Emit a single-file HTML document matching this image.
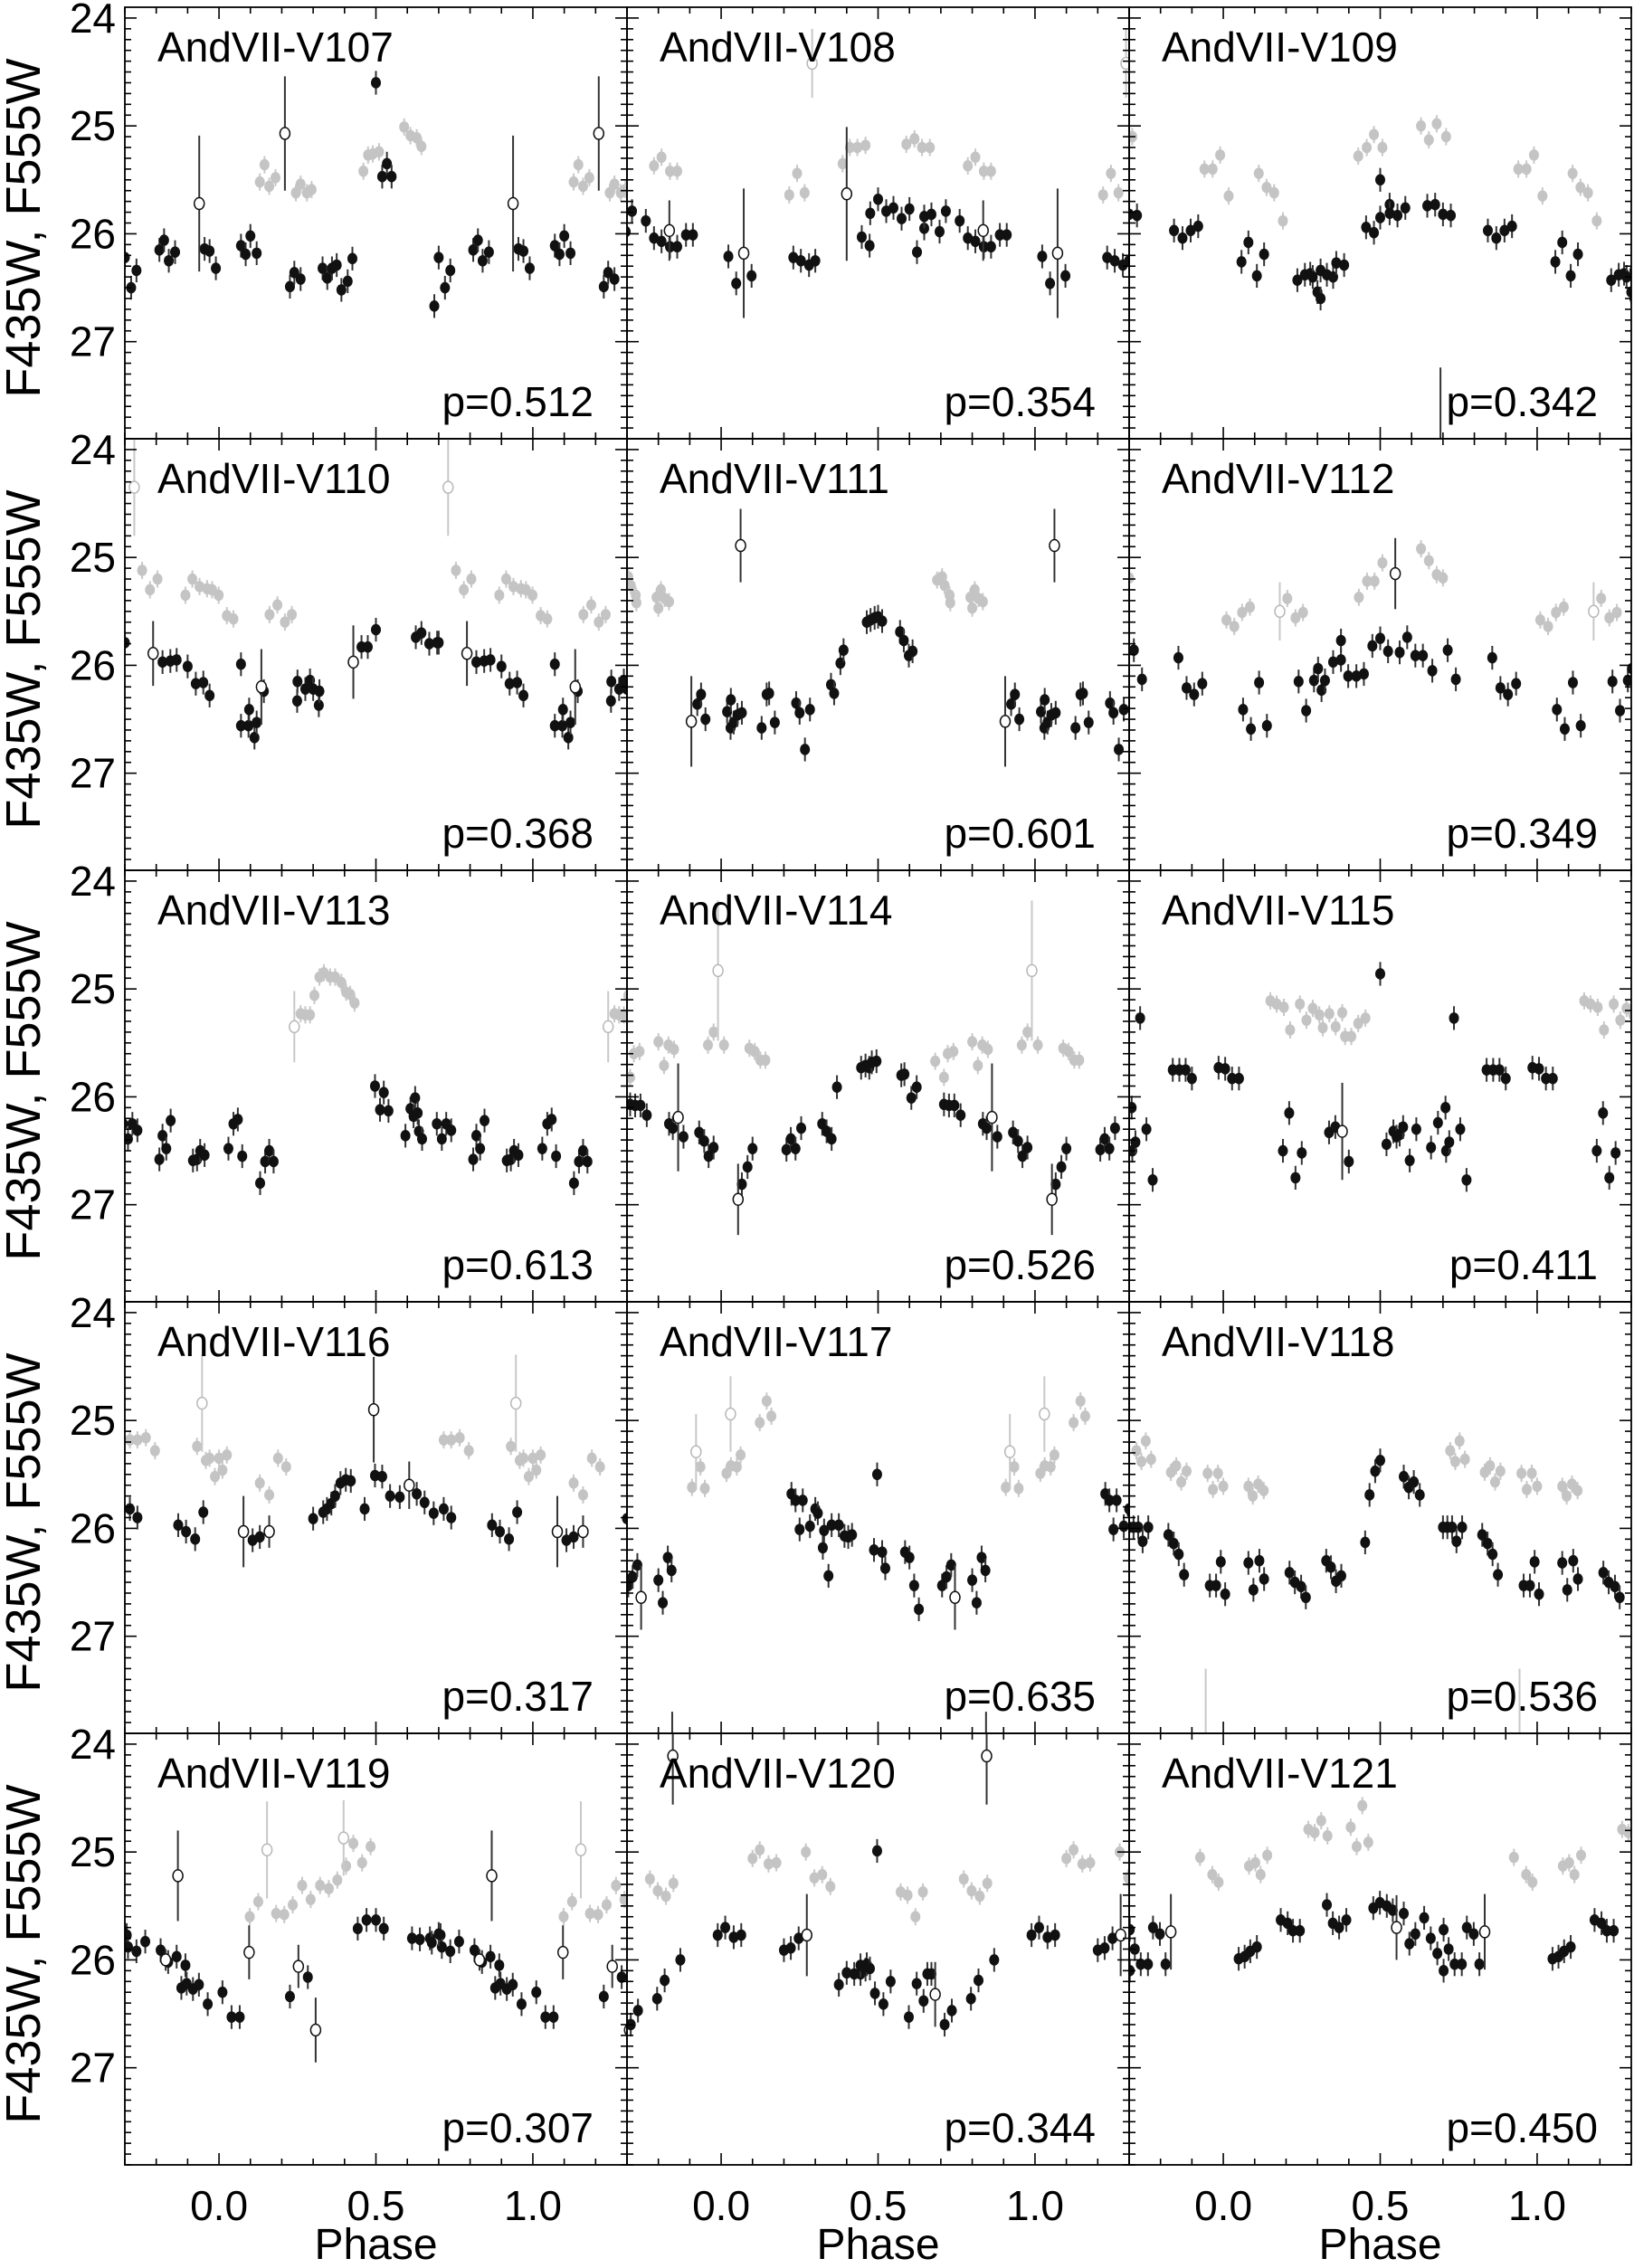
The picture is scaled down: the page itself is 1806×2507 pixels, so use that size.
<!DOCTYPE html>
<html><head><meta charset="utf-8"><title>AndVII variable light curves</title>
<style>
html,body{margin:0;padding:0;background:#fff;}
svg{display:block;}
text{font-family:"Liberation Sans",Arial,sans-serif;fill:#000;}
</style></head>
<body>
<svg id="chart" xmlns="http://www.w3.org/2000/svg" width="1806" height="2507" viewBox="0 0 1806 2507">
<rect x="0" y="0" width="1806" height="2507" fill="#fff"/>
</svg>
<script>
const starNames = ["AndVII-V107","AndVII-V108","AndVII-V109","AndVII-V110","AndVII-V111","AndVII-V112","AndVII-V113","AndVII-V114","AndVII-V115","AndVII-V116","AndVII-V117","AndVII-V118","AndVII-V119","AndVII-V120","AndVII-V121"];
const periods = ["0.512","0.354","0.342","0.368","0.601","0.349","0.613","0.526","0.411","0.317","0.635","0.536","0.307","0.344","0.450"];
const xTickValues = [0.0,0.5,1.0];
const xTickLabels = ["0.0","0.5","1.0"];
const yTickValues = [24,25,26,27];
const yTickLabels = ["24","25","26","27"];

const blackPts = [
[[0.686,26.67],[0.70,26.22],[0.72,26.50],[0.737,26.34],[0.81,26.15],[0.825,26.06],[0.84,26.25],[0.86,26.17],[0.954,26.14],[0.97,26.16],[0.99,26.32],[0.07,26.11],[0.085,26.19],[0.10,26.02],[0.12,26.18],[0.226,26.49],[0.24,26.36],[0.26,26.42],[0.33,26.32],[0.345,26.41],[0.36,26.32],[0.375,26.29],[0.39,26.52],[0.41,26.44],[0.425,26.23],[0.50,24.60],[0.52,25.47],[0.535,25.35],[0.55,25.47]],
[[0.716,25.79],[0.76,25.88],[0.786,26.04],[0.81,26.07],[0.837,26.12],[0.86,26.12],[0.888,26.01],[0.91,26.01],[0.023,26.21],[0.048,26.46],[0.097,26.39],[0.23,26.22],[0.254,26.25],[0.28,26.29],[0.30,26.25],[0.448,26.03],[0.473,26.11],[0.475,25.81],[0.50,25.68],[0.526,25.79],[0.549,25.76],[0.575,25.86],[0.60,25.77],[0.624,26.17],[0.647,25.95],[0.647,25.84],[0.67,25.82],[0.696,25.98]],
[[0.725,25.83],[0.843,25.97],[0.87,26.04],[0.896,25.97],[0.92,25.93],[0.058,26.26],[0.08,26.08],[0.107,26.39],[0.13,26.19],[0.236,26.43],[0.26,26.38],[0.277,26.37],[0.285,26.40],[0.30,26.54],[0.31,26.60],[0.31,26.34],[0.33,26.38],[0.35,26.40],[0.36,26.27],[0.385,26.29],[0.455,25.94],[0.48,25.99],[0.50,25.50],[0.50,25.85],[0.53,25.73],[0.53,25.81],[0.555,25.83],[0.58,25.76],[0.65,25.74],[0.675,25.73],[0.70,25.82]],
[[0.70,25.79],[0.82,25.97],[0.845,25.96],[0.865,25.95],[0.90,26.01],[0.926,26.17],[0.95,26.16],[0.97,26.28],[0.07,25.99],[0.07,26.56],[0.094,26.56],[0.096,26.41],[0.113,26.67],[0.12,26.53],[0.143,26.24],[0.249,26.33],[0.25,26.15],[0.275,26.22],[0.29,26.14],[0.30,26.22],[0.318,26.37],[0.32,26.24],[0.454,25.83],[0.474,25.83],[0.50,25.67],[0.627,25.74],[0.645,25.70],[0.67,25.80],[0.695,25.79]],
[[0.924,26.36],[0.936,26.27],[0.95,26.50],[0.019,26.43],[0.03,26.58],[0.031,26.32],[0.04,26.53],[0.052,26.46],[0.066,26.44],[0.129,26.58],[0.145,26.27],[0.153,26.26],[0.171,26.53],[0.239,26.35],[0.25,26.44],[0.267,26.78],[0.283,26.41],[0.35,26.18],[0.36,26.26],[0.38,25.98],[0.39,25.86],[0.464,25.60],[0.476,25.58],[0.489,25.56],[0.50,25.55],[0.513,25.59],[0.57,25.69],[0.582,25.77],[0.598,25.91],[0.61,25.87]],
[[0.715,25.86],[0.741,26.13],[0.857,25.93],[0.883,26.21],[0.907,26.27],[0.933,26.17],[0.063,26.41],[0.088,26.59],[0.114,26.16],[0.139,26.56],[0.24,26.15],[0.264,26.42],[0.289,26.14],[0.302,26.03],[0.313,26.23],[0.324,26.14],[0.35,25.97],[0.375,25.77],[0.375,25.95],[0.398,26.10],[0.424,26.10],[0.448,26.08],[0.475,25.82],[0.50,25.75],[0.525,25.87],[0.562,25.88],[0.586,25.74],[0.612,25.91],[0.636,25.91],[0.666,26.05]],
[[0.694,26.25],[0.71,26.39],[0.724,26.25],[0.74,26.31],[0.81,26.58],[0.82,26.36],[0.832,26.48],[0.846,26.22],[0.917,26.59],[0.93,26.58],[0.94,26.50],[0.954,26.54],[0.03,26.48],[0.046,26.25],[0.06,26.21],[0.074,26.55],[0.131,26.80],[0.147,26.60],[0.16,26.50],[0.174,26.60],[0.497,25.90],[0.525,25.96],[0.513,26.12],[0.54,26.13],[0.594,26.36],[0.61,26.11],[0.62,26.18],[0.625,26.01],[0.633,26.15],[0.637,26.32],[0.647,26.39]],
[[0.71,26.07],[0.726,26.08],[0.743,26.08],[0.763,26.17],[0.834,26.25],[0.846,26.29],[0.88,26.37],[0.93,26.33],[0.946,26.41],[0.96,26.55],[0.976,26.47],[0.066,26.81],[0.084,26.65],[0.10,26.48],[0.208,26.49],[0.222,26.39],[0.237,26.48],[0.255,26.29],[0.322,26.25],[0.336,26.32],[0.352,26.39],[0.369,25.91],[0.446,25.73],[0.46,25.71],[0.472,25.73],[0.48,25.68],[0.495,25.67],[0.574,25.80],[0.584,25.79],[0.606,26.01],[0.623,25.91]],
[[0.708,26.10],[0.71,26.50],[0.72,26.42],[0.735,25.27],[0.755,26.30],[0.775,26.77],[0.839,25.75],[0.86,25.75],[0.88,25.75],[0.90,25.83],[0.985,25.73],[0.006,25.74],[0.028,25.83],[0.05,25.83],[0.19,26.50],[0.21,26.15],[0.23,26.75],[0.25,26.52],[0.337,26.33],[0.357,26.28],[0.40,26.60],[0.50,24.86],[0.52,26.44],[0.542,26.32],[0.552,26.37],[0.562,26.35],[0.573,26.28],[0.594,26.59],[0.615,26.30],[0.662,26.47],[0.684,26.24]],
[[0.716,25.82],[0.74,25.90],[0.87,25.97],[0.895,26.03],[0.924,26.10],[0.95,25.85],[0.107,26.11],[0.13,26.08],[0.30,25.91],[0.332,25.85],[0.344,25.82],[0.358,25.77],[0.37,25.70],[0.387,25.58],[0.404,25.55],[0.42,25.56],[0.464,25.82],[0.497,25.51],[0.52,25.52],[0.545,25.70],[0.576,25.71],[0.63,25.68],[0.655,25.76],[0.684,25.86]],
[[0.704,26.53],[0.718,26.45],[0.733,26.34],[0.80,26.48],[0.814,26.69],[0.83,26.27],[0.842,26.39],[0.224,25.68],[0.237,25.74],[0.26,25.74],[0.25,26.01],[0.283,25.98],[0.30,25.82],[0.308,25.86],[0.324,26.18],[0.328,26.02],[0.342,26.44],[0.352,25.97],[0.375,25.97],[0.393,26.07],[0.405,26.08],[0.417,26.06],[0.497,25.50],[0.487,26.20],[0.513,26.22],[0.523,26.37],[0.586,26.22],[0.60,26.27],[0.615,26.53],[0.63,26.75]],
[[0.70,25.99],[0.714,25.99],[0.729,25.99],[0.743,26.12],[0.761,25.99],[0.825,26.06],[0.842,26.14],[0.858,26.24],[0.875,26.43],[0.957,26.53],[0.977,26.53],[0.992,26.31],[0.006,26.61],[0.08,26.32],[0.096,26.57],[0.115,26.30],[0.13,26.47],[0.211,26.41],[0.228,26.50],[0.248,26.54],[0.263,26.64],[0.328,26.30],[0.343,26.36],[0.359,26.49],[0.376,26.44],[0.452,26.13],[0.466,25.69],[0.484,25.47],[0.50,25.37],[0.575,25.52],[0.591,25.62],[0.607,25.57],[0.626,25.69]],
[[0.706,25.77],[0.71,25.88],[0.737,25.92],[0.765,25.83],[0.814,25.91],[0.838,26.02],[0.865,25.97],[0.893,26.05],[0.88,26.26],[0.897,26.22],[0.917,26.27],[0.936,26.23],[0.964,26.41],[0.011,26.30],[0.04,26.53],[0.066,26.53],[0.226,26.34],[0.283,26.16],[0.442,25.71],[0.47,25.63],[0.50,25.63],[0.525,25.71],[0.615,25.80],[0.64,25.81],[0.672,25.80],[0.678,25.84],[0.70,25.76]],
[[0.712,26.60],[0.735,26.47],[0.796,26.36],[0.82,26.19],[0.87,26.00],[0.989,25.77],[0.013,25.70],[0.04,25.79],[0.064,25.77],[0.20,25.91],[0.222,25.89],[0.247,25.80],[0.375,26.23],[0.40,26.12],[0.424,26.13],[0.444,26.13],[0.444,26.05],[0.46,26.09],[0.464,26.04],[0.474,26.08],[0.497,24.99],[0.49,26.31],[0.517,26.41],[0.54,26.20],[0.598,26.53],[0.623,26.22],[0.645,26.38],[0.657,26.13],[0.67,26.13]],
[[0.702,25.72],[0.702,26.10],[0.718,25.90],[0.737,26.04],[0.76,26.04],[0.776,25.70],[0.798,25.76],[0.816,26.04],[0.049,25.99],[0.068,25.97],[0.086,25.92],[0.107,25.88],[0.183,25.63],[0.205,25.66],[0.222,25.73],[0.244,25.73],[0.33,25.49],[0.349,25.66],[0.369,25.70],[0.392,25.63],[0.478,25.52],[0.499,25.47],[0.521,25.50],[0.54,25.54],[0.575,25.57],[0.593,25.85],[0.612,25.76],[0.64,25.61],[0.661,25.80],[0.682,25.94]]
];

const grayPts = [
[[0.13,25.52],[0.145,25.36],[0.16,25.56],[0.18,25.48],[0.245,25.62],[0.26,25.54],[0.28,25.62],[0.295,25.59],[0.46,25.42],[0.475,25.27],[0.49,25.26],[0.51,25.24],[0.59,25.01],[0.61,25.09],[0.63,25.11],[0.645,25.19]],
[[0.786,25.37],[0.81,25.29],[0.837,25.42],[0.86,25.42],[0.217,25.64],[0.242,25.44],[0.266,25.62],[0.387,25.35],[0.41,25.20],[0.434,25.20],[0.46,25.18],[0.59,25.17],[0.616,25.12],[0.64,25.20],[0.665,25.20]],
[[0.94,25.40],[0.966,25.40],[0.99,25.27],[0.017,25.65],[0.113,25.44],[0.138,25.57],[0.162,25.62],[0.19,25.88],[0.43,25.28],[0.457,25.20],[0.48,25.08],[0.507,25.20],[0.63,25.00],[0.655,25.13],[0.68,24.98],[0.71,25.10]],
[[0.755,25.12],[0.78,25.30],[0.804,25.20],[0.893,25.35],[0.915,25.20],[0.938,25.27],[0.962,25.29],[0.978,25.30],[0.999,25.35],[0.025,25.54],[0.046,25.57],[0.161,25.53],[0.186,25.44],[0.21,25.60],[0.232,25.53]],
[[0.688,25.21],[0.704,25.18],[0.712,25.26],[0.728,25.35],[0.73,25.42],[0.794,25.37],[0.808,25.30],[0.80,25.47],[0.82,25.38],[0.834,25.41]],
[[0.70,25.19],[0.01,25.58],[0.035,25.64],[0.06,25.51],[0.085,25.46],[0.204,25.38],[0.23,25.56],[0.254,25.51],[0.432,25.37],[0.458,25.22],[0.482,25.22],[0.507,25.05],[0.63,24.92],[0.655,25.03],[0.68,25.16]],
[[0.26,25.23],[0.275,25.24],[0.29,25.24],[0.304,25.06],[0.32,24.89],[0.334,24.85],[0.354,24.89],[0.37,24.89],[0.39,24.94],[0.405,25.03],[0.418,25.05],[0.432,25.13]],
[[0.682,25.67],[0.71,25.82],[0.722,25.60],[0.74,25.58],[0.80,25.49],[0.818,25.71],[0.832,25.52],[0.85,25.56],[0.958,25.52],[0.976,25.40],[0.009,25.52],[0.09,25.55],[0.107,25.58],[0.125,25.66],[0.141,25.66]],
[[0.15,25.11],[0.17,25.14],[0.193,25.17],[0.213,25.38],[0.244,25.14],[0.265,25.29],[0.285,25.18],[0.306,25.24],[0.317,25.36],[0.338,25.23],[0.358,25.35],[0.379,25.22],[0.388,25.44],[0.408,25.44],[0.43,25.32],[0.453,25.27]],
[[0.716,25.18],[0.74,25.18],[0.767,25.16],[0.796,25.28],[0.93,25.24],[0.958,25.37],[0.97,25.35],[0.987,25.52],[0.0,25.35],[0.011,25.46],[0.025,25.32],[0.13,25.58],[0.16,25.69],[0.188,25.35],[0.214,25.43]],
[[0.907,25.62],[0.934,25.43],[0.948,25.63],[0.017,25.49],[0.031,25.42],[0.05,25.43],[0.062,25.32],[0.123,25.02],[0.145,24.82],[0.16,24.96]],
[[0.723,25.28],[0.739,25.38],[0.753,25.19],[0.77,25.36],[0.833,25.48],[0.85,25.42],[0.866,25.57],[0.883,25.47],[0.95,25.49],[0.967,25.64],[0.983,25.49],[0.0,25.61],[0.08,25.61],[0.094,25.70],[0.111,25.59],[0.129,25.65]],
[[0.098,25.60],[0.125,25.46],[0.182,25.57],[0.208,25.58],[0.235,25.49],[0.265,25.31],[0.292,25.44],[0.322,25.31],[0.35,25.34],[0.377,25.26],[0.405,25.13],[0.428,24.92],[0.456,25.10],[0.483,24.95]],
[[0.773,25.25],[0.798,25.36],[0.824,25.41],[0.848,25.29],[0.10,25.06],[0.123,24.98],[0.151,25.11],[0.176,25.10],[0.27,25.00],[0.297,25.24],[0.322,25.21],[0.348,25.32],[0.572,25.37],[0.594,25.40],[0.619,25.60],[0.643,25.37]],
[[0.926,25.05],[0.965,25.21],[0.985,25.28],[0.082,25.13],[0.102,25.10],[0.119,25.21],[0.14,25.03],[0.271,24.79],[0.291,24.82],[0.312,24.71],[0.332,24.85],[0.406,24.77],[0.425,24.95],[0.443,24.57],[0.462,24.91]]
];

const openBlackPts = [
[[0.937,25.72,0.63],[0.21,25.07,0.53]],
[[0.835,25.97,0.28],[0.072,26.18,0.6],[0.40,25.63,0.62]],
[[0.692,28.4,1.16]],
[[0.79,25.89,0.3],[0.135,26.2,0.35],[0.428,25.97,0.34]],
[[0.905,26.52,0.42],[0.062,24.89,0.34]],
[[0.548,25.15,0.33]],
[],
[[0.863,26.19,0.5],[0.054,26.95,0.33]],
[[0.379,26.32,0.45]],
[[0.078,26.03,0.33],[0.16,26.03,0.15],[0.493,24.90,0.49],[0.606,25.60,0.22]],
[[0.745,26.64,0.3],[0.844,28.4,0.7]],
[],
[[0.869,25.22,0.42],[0.096,25.93,0.25],[0.253,26.06,0.2],[0.308,26.65,0.3],[0.83,26.0,0.1]],
[[0.846,24.11,0.45],[0.273,25.77,0.38],[0.682,26.32,0.3]],
[[0.833,25.74,0.35],[0.552,25.70,0.3]]
];

const openGrayPts = [
[],
[[0.29,24.42,0.32]],
[],
[[0.73,24.35,0.45]],
[],
[[0.18,25.50,0.27]],
[[0.24,25.35,0.33]],
[[0.99,24.83,0.65]],
[],
[[0.946,24.84,0.45]],
[[0.92,25.29,0.35],[0.03,24.94,0.35]],
[[0.944,28.3,1.0]],
[[0.153,24.98,0.45],[0.397,24.87,0.35]],
[],
[]
];

const NS = "http://www.w3.org/2000/svg";
const svg = document.getElementById("chart");
const PX0 = 138, PY0 = 8, PW = 555, PH = 477;
const PH_MIN = -0.3, PH_MAX = 1.3, M_MIN = 23.9, M_MAX = 27.9;
function xScale(c, ph){ return PX0 + c*PW + (ph - PH_MIN)/(PH_MAX-PH_MIN)*PW; }
function yScale(r, m){ return PY0 + r*PH + (m - M_MIN)/(M_MAX-M_MIN)*PH; }
function mk(tag, attrs, parent){
  const e = document.createElementNS(NS, tag);
  for (const k in attrs) e.setAttribute(k, attrs[k]);
  (parent||svg).appendChild(e);
  return e;
}

const defs = mk("defs", {});
for (let i=0;i<15;i++){
  const c=i%3, r=Math.floor(i/3);
  const cp = mk("clipPath",{id:"clip"+i}, defs);
  mk("rect",{x:PX0+c*PW, y:PY0+r*PH, width:PW, height:PH}, cp);
}

function drawSeries(g, i, pts, kind, defErr){
  const c=i%3, r=Math.floor(i/3);
  pts.forEach(p=>{
    [-1,0,1].forEach(sh=>{
      const ph = p[0]+sh;
      if (ph < PH_MIN-0.02 || ph > PH_MAX+0.02) return;
      const err = p.length>2 ? p[2] : defErr;
      const x = xScale(c, ph), y = yScale(r, p[1]);
      const dark = (kind==="black"||kind==="openBlack");
      const bar = mk("line",{x1:x,x2:x,y1:yScale(r,p[1]-err),y2:yScale(r,p[1]+err),stroke:dark?"#333":"#c8c8c8","stroke-width":2}, g);
      
      
      let m;
      if (kind==="black") m = mk("ellipse",{cx:x,cy:y,rx:5.5,ry:6.3,fill:"#111"}, g);
      else if (kind==="gray") m = mk("ellipse",{cx:x,cy:y,rx:5.5,ry:6.3,fill:"#c4c4c4"}, g);
      else m = mk("ellipse",{cx:x,cy:y,rx:5.5,ry:6.5,fill:"#fff",stroke:kind==="openBlack"?"#111":"#b8b8b8","stroke-width":1.5}, g);
      
      
    });
  });
}

for (let i=0;i<15;i++){
  const c=i%3, r=Math.floor(i/3);
  const x0 = PX0+c*PW, y0 = PY0+r*PH;
  const panel = mk("g",{});
  
  
  const data = mk("g",{"clip-path":"url(#clip"+i+")"}, panel);
  
  
  drawSeries(data, i, grayPts[i], "gray", 0.08);
  drawSeries(data, i, openGrayPts[i], "openGray", 0.3);
  drawSeries(data, i, blackPts[i], "black", 0.11);
  drawSeries(data, i, openBlackPts[i], "openBlack", 0.3);

  const tk = mk("g",{stroke:"#000","stroke-width":1.6}, panel);
  
  
  for (let k=-3;k<=13;k++){
    const ph=k/10, x=xScale(c,ph);
    const len = (k%5===0)? 13 : 7;
    mk("line",{x1:x,x2:x,y1:y0+PH,y2:y0+PH-len}, tk);
    mk("line",{x1:x,x2:x,y1:y0,y2:y0+len}, tk);
  }
  for (let k=240;k<=279;k++){
    const m=k/10, y=yScale(r,m);
    const len = (k%10===0)? 13 : 7;
    mk("line",{x1:x0,x2:x0+len,y1:y,y2:y}, tk);
    mk("line",{x1:x0+PW,x2:x0+PW-len,y1:y,y2:y}, tk);
  }
  const fr = mk("rect",{x:x0,y:y0,width:PW,height:PH,fill:"none",stroke:"#000","stroke-width":1.8}, panel);
  
  

  const t = mk("text",{x:x0+36,y:y0+60,"font-size":46}, panel);
  t.textContent = starNames[i];
  
  
  const p = mk("text",{x:x0+518,y:y0+452,"font-size":46,"text-anchor":"end"}, panel);
  p.textContent = "p=" + periods[i];
  
  

  if (c===0){
    yTickValues.forEach((v,j)=>{
      const yl = mk("text",{x:128,y:yScale(r,v)+16,"font-size":46,"text-anchor":"end"});
      yl.textContent = yTickLabels[j];
      
      
    });
    const yt = mk("text",{x:0,y:0,"font-size":54,"text-anchor":"middle",transform:"translate(44,"+(y0+244)+") rotate(-90)"});
    yt.textContent = "F435W, F555W";
    
    
  }
  if (r===4){
    xTickValues.forEach((v,j)=>{
      const xl = mk("text",{x:xScale(c,v),y:2454,"font-size":46,"text-anchor":"middle"});
      xl.textContent = xTickLabels[j];
      
      
    });
    const xt = mk("text",{x:xScale(c,0.5),y:2497,"font-size":48,"text-anchor":"middle"});
    xt.textContent = "Phase";
    
    
  }
}
</script>
</body></html>
